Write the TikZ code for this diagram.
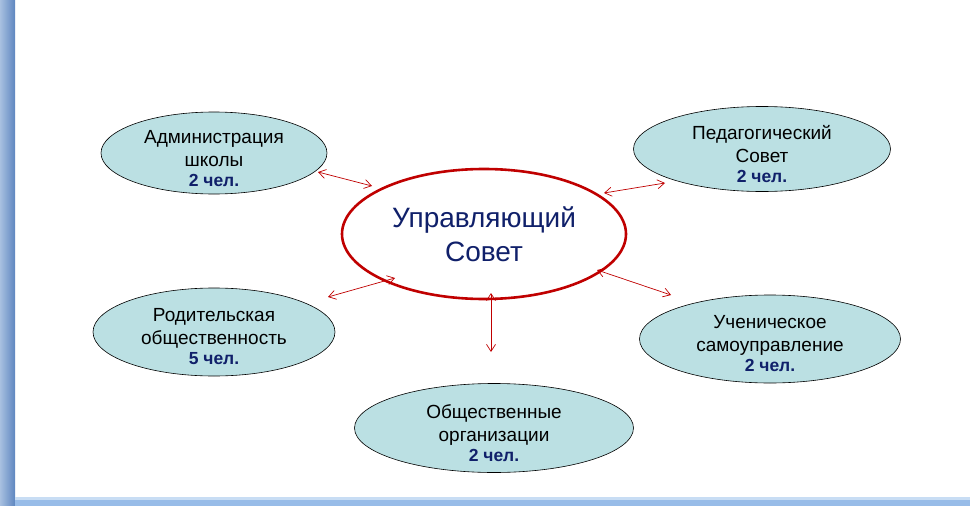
\documentclass[tikz,border=0pt]{standalone}
\usepackage{fontspec}
\setmainfont{Liberation Sans}
\usetikzlibrary{arrows.meta,shapes.geometric}
\definecolor{fillc}{HTML}{BBE0E3}
\definecolor{navy}{HTML}{10206A}
\definecolor{redc}{HTML}{C00000}
\definecolor{barl}{HTML}{A8C0E0}
\definecolor{bard}{HTML}{5E86C0}
\definecolor{botl}{HTML}{C8DDF4}
\definecolor{botd}{HTML}{98BCE8}
\tikzset{
 side/.style={ellipse,draw=black,line width=0.6pt,fill=fillc,inner sep=0pt},
 sidetext/.style={align=center,inner sep=0pt,font=\fontsize{19}{23}\selectfont},
 link/.style={draw=redc,line width=0.7pt,{Straight Barb[length=7pt,width=9pt]}-{Straight Barb[length=7pt,width=9pt]}},
}
\newcommand{\cnt}[1]{{\color{navy}\bfseries\fontsize{17.5}{19}\selectfont #1}}
\begin{document}
\begin{tikzpicture}[x=1pt,y=-1pt]
\useasboundingbox (0,0) rectangle (970,506);
\fill[white] (0,0) rectangle (970,506);
\shade[left color=barl,right color=bard] (0,0) rectangle (15,506);
\fill[botl] (15,497) rectangle (970,500);
\fill[botd] (15,500) rectangle (970,506);
\node[side,minimum width=226pt,minimum height=82pt] (adm) at (214,153) {};
\node[side,minimum width=257pt,minimum height=85pt] (ped) at (762,149) {};
\node[side,minimum width=242pt,minimum height=88pt] (par) at (214,332) {};
\node[side,minimum width=261pt,minimum height=88pt] (stu) at (770,339) {};
\node[side,minimum width=279pt,minimum height=89pt] (pub) at (494,428) {};
\node[sidetext] (admt) at ([yshift=-6pt]adm.center) {Администрация\\школы\\[-3pt]\cnt{2 чел.}};
\node[sidetext] (pedt) at ([yshift=-5pt]ped.center) {Педагогический\\Совет\\[-3pt]\cnt{2 чел.}};
\node[sidetext] (part) at ([yshift=-5pt]par.center) {Родительская\\общественность\\[-3pt]\cnt{5 чел.}};
\node[sidetext] (stut) at ([yshift=-5pt]stu.center) {Ученическое\\самоуправление\\[-3pt]\cnt{2 чел.}};
\node[sidetext] (pubt) at ([yshift=-5pt]pub.center) {Общественные\\организации\\[-3pt]\cnt{2 чел.}};
\node[ellipse,draw=redc,line width=2.6pt,fill=white,minimum width=284pt,minimum height=130pt,align=center,text=navy,font=\fontsize{28}{34}\selectfont] (ctr) at (484,234) {Управляющий\\Совет};
\coordinate (a1) at (318,172); \coordinate (a2) at (372,186);
\coordinate (b1) at (604,193); \coordinate (b2) at (665,183);
\coordinate (c1) at (328,297); \coordinate (c2) at (395,278);
\coordinate (d1) at (491,293); \coordinate (d2) at (491,352);
\coordinate (e1) at (597,270); \coordinate (e2) at (671,295);
\draw[link] (a1) -- (a2);
\draw[link] (b1) -- (b2);
\draw[link] (c1) -- (c2);
\draw[link] (d1) -- (d2);
\draw[link] (e1) -- (e2);
\end{tikzpicture}
\end{document}
